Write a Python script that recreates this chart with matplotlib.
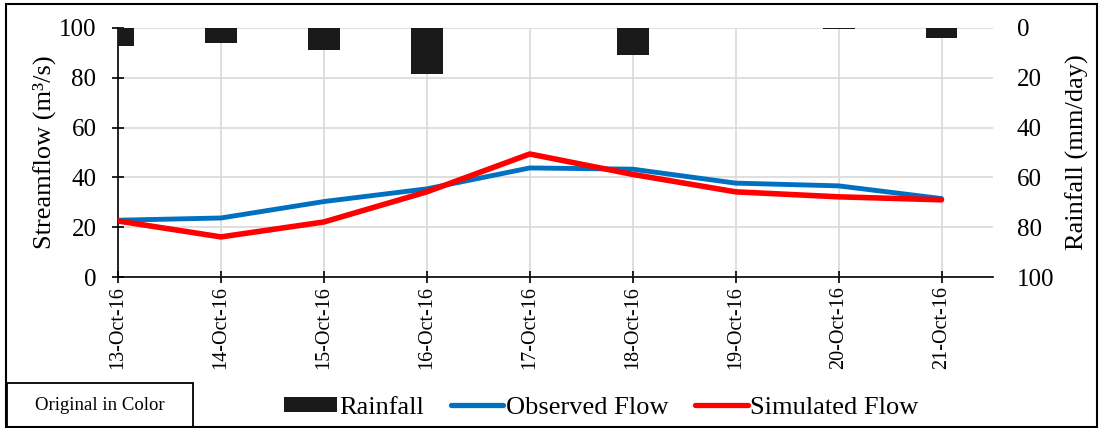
import matplotlib
matplotlib.use("Agg")
import matplotlib.pyplot as plt
from matplotlib.patches import Rectangle, Patch
from matplotlib.lines import Line2D

dates = ["13-Oct-16", "14-Oct-16", "15-Oct-16", "16-Oct-16", "17-Oct-16",
         "18-Oct-16", "19-Oct-16", "20-Oct-16", "21-Oct-16"]
rainfall = [7.2, 6.0, 8.8, 18.5, 0.0, 10.8, 0.0, 0.6, 4.0]
observed = [22.8, 23.7, 30.3, 35.4, 43.8, 43.3, 37.7, 36.6, 31.5]
simulated = [22.5, 16.1, 22.1, 34.2, 49.4, 41.2, 34.2, 32.2, 31.0]

plt.rcParams["font.family"] = ["Liberation Serif", "DejaVu Serif"]

fig = plt.figure(figsize=(11.01, 4.28), dpi=100)
rect = [0.1072, 0.3528, 0.9019 - 0.1072, 0.9346 - 0.3528]
ax = fig.add_axes(rect)
x = list(range(len(dates)))

# streamflow axis (left) with grid
ax.set_xlim(0, 8.5)
ax.set_ylim(0, 100)
ax.set_yticks([0, 20, 40, 60, 80, 100])
ax.set_xticks(x)
ax.set_xticklabels(dates, rotation=90, fontsize=14.5)
ax.tick_params(axis="y", labelsize=18, direction="inout", length=9, width=1.2, pad=11)
ax.tick_params(axis="x", direction="inout", length=9, width=1.2, pad=2)
ax.grid(True, color="#d9d9d9", linewidth=1.2)
ax.set_axisbelow(True)
for s in ["top", "right"]:
    ax.spines[s].set_visible(False)
for s in ["left", "bottom"]:
    ax.spines[s].set_linewidth(1.2)
ax.set_ylabel("Streamflow (m³/s)", fontsize=19, labelpad=2)

# rainfall axis (right, inverted) with hanging bars
ax2 = ax.twinx()
ax2.bar(x, rainfall, width=0.31, color="#1a1a1a", zorder=2)
ax2.set_ylim(100, 0)
ax2.set_xlim(0, 8.5)
ax2.set_yticks([0, 20, 40, 60, 80, 100])
ax2.tick_params(axis="y", labelsize=18, length=0, pad=17)
for s in ["top", "right", "left", "bottom"]:
    ax2.spines[s].set_visible(False)
ax2.set_ylabel("Rainfall (mm/day)", fontsize=19, labelpad=8)

# flow lines on an overlay axes so they sit above the bars
ax3 = fig.add_axes(rect, sharex=ax)
ax3.set_ylim(0, 100)
ax3.axis("off")
ax3.patch.set_visible(False)
ax3.plot(x, observed, color="#0070C0", linewidth=3.5, solid_capstyle="round")
ax3.plot(x, simulated, color="#FF0000", linewidth=4.0, solid_capstyle="round")

handles = [
    Patch(facecolor="#1a1a1a", edgecolor="none"),
    Line2D([0], [0], color="#0070C0", linewidth=3.8, solid_capstyle="round"),
    Line2D([0], [0], color="#FF0000", linewidth=3.8, solid_capstyle="round"),
]
fig.legend(handles, ["Rainfall", "Observed Flow", "Simulated Flow"],
           loc="center", bbox_to_anchor=(0.546, 0.047), ncol=3, frameon=False,
           fontsize=19, handlelength=2.0, handletextpad=0.1, columnspacing=1.0,
           handleheight=0.5)

# figure border and caption box
fig.patches.append(Rectangle((6 / 1101, 1 / 428), 1091 / 1101, 423 / 428,
                             transform=fig.transFigure, fill=False,
                             edgecolor="black", linewidth=1.5))
fig.patches.append(Rectangle((7 / 1101, 1 / 428), 186 / 1101, 44 / 428,
                             transform=fig.transFigure, fill=False,
                             edgecolor="black", linewidth=1.3))
fig.text(100 / 1101, 22 / 428, "Original in Color", fontsize=13.5,
         ha="center", va="center")

fig.savefig("out.png", dpi=100)
